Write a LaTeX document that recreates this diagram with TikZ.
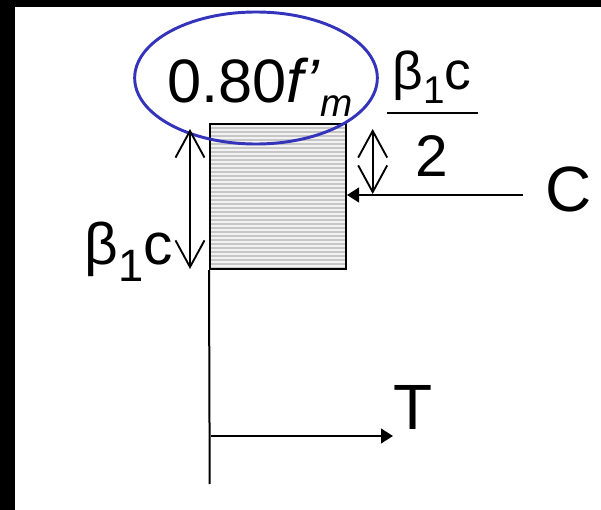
\documentclass[tikz,border=0pt]{standalone}
\usepackage{fontspec}
\setmainfont{Liberation Sans}
\usetikzlibrary{arrows.meta,shapes.geometric}
\definecolor{ovalblue}{RGB}{51,51,187}
\begin{document}
\begin{tikzpicture}[x=0.75pt, y=-0.75pt,
	every node/.style={inner sep=0, font=\fontsize{48}{50}\selectfont},
	dim/.style={line width=1.4pt, {Straight Barb[length=20pt,width=21.75pt]}-{Straight Barb[length=20pt,width=21.75pt]}},
	force/.style={line width=1.6pt, -{Triangle[length=9pt,width=11pt]}},
	stripe/.style={gray!45, line width=0.9pt}]
	
	\useasboundingbox (0,0) rectangle (601,510);
	\fill[black] (0,0) rectangle (14.5,510);
	\fill[black] (0,0) rectangle (601,7.5);
	
	% stress block
	\node (blk) at (278,196.5) [draw, line width=1.5pt, fill=gray!10, minimum width=102pt, minimum height=108.75pt,
		path picture={\foreach \k in {1,...,36}
			\draw[stripe] ([yshift=-\k*3pt]path picture bounding box.north west) -- ([yshift=-\k*3pt]path picture bounding box.north east);}] {};
	\coordinate (base) at (209.7,484);
	\draw[line width=1.5pt] (blk.south west) -- (base);
	
	% labels
	\node (fm) at (167,103) [anchor=base west, font=\fontsize{46}{48}\selectfont] {0.80\textit{f’}\raisebox{-10.5pt}{\fontsize{29}{30}\selectfont\itshape m}};
	\node (oval) at (256,78) [draw=ovalblue, line width=2.2pt, ellipse, minimum width=182pt, minimum height=99pt] {};
	\node (bl) at (173,265) [anchor=base east, font=\fontsize{44}{46}\selectfont] {β\raisebox{-12.5pt}{\fontsize{34}{36}\selectfont 1}c};
	\node (num) at (432,90) [anchor=base, font=\fontsize{40}{42}\selectfont] {β\raisebox{-10pt}{\fontsize{29}{30}\selectfont 1}c};
	\node (den) at (432,177) [anchor=base, font=\fontsize{44}{46}\selectfont] {2};
	\coordinate (barL) at (387,113);
	\coordinate (barR) at (478,113);
	\draw[line width=1.6pt] (barL) -- (barR);
	\node (C) at (545,212) [anchor=base west] {C};
	\node (T) at (393,429) [anchor=base west] {T};
	
	% arrows
	\coordinate (lt) at (190,129);
	\coordinate (lb) at (190,269);
	\draw[dim] (lt) -- (lb);
	\coordinate (rt) at (372.7,129);
	\coordinate (rb) at (372.7,194);
	\draw[dim] (rt) -- (rb);
	\coordinate (cA) at (523,195);
	\draw[force] (cA) -- (cA -| blk.east);
	\coordinate (tS) at (211,436);
	\draw[force] (tS) -- (tS -| T.west);
\end{tikzpicture}
\end{document}
